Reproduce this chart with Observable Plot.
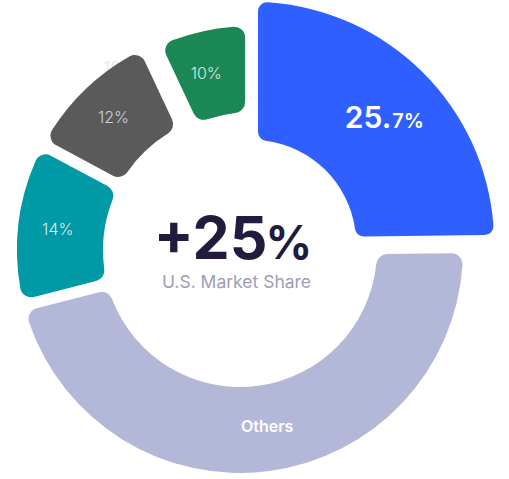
<!DOCTYPE html>
<html>
<head>
<meta charset="utf-8">
<script src="https://cdn.jsdelivr.net/npm/d3@7"></script>
<script src="https://cdn.jsdelivr.net/npm/@observablehq/plot@0.6"></script>
<style>
  html, body { margin: 0; padding: 0; background: #fff; }
  #chart svg { display: block; }
</style>
</head>
<body>
<div id="chart"></div>
<script>
// ---- data ----
const categories = ["Leader", "Others", "Brand B", "Brand C", "Brand D"];
const shares = [24.8, 46.2, 11.8, 10.2, 7.0];           // angular share
const labelMain = ["25.", "Others", "14%", "12%", "10%"];
const labelSmall = ["7%", "", "", "", ""];
const ghostLabel = ["10%"];
const centerValue = ["+25"];
const centerUnit = ["%"];
const centerCaption = ["U.S. Market Share"];

// ---- styles / layout ----
const W = 509, H = 479;
const C = {x: 240, y: 250};
const pad = 0.045, padRadius = 260;
const styles = [
  {fill: "#2f5fff", inner: 104, outer: 242, ox: 12.15, oy: -6.15, corner: 9},
  {fill: "#b3b8d8", inner: 137, outer: 223, ox: 0, oy: 0, corner: 11},
  {fill: "#0099a6", inner: 137, outer: 223, ox: 0, oy: 0, corner: 11},
  {fill: "#5a5a5a", inner: 137, outer: 223, ox: 0, oy: 0, corner: 11},
  {fill: "#1a8754", inner: 137, outer: 223, ox: 11, oy: -1, corner: 11}
];
const labelStyle = [
  {size: 30, small: 20, weight: 600, fill: "#ffffff", opacity: 1, dx: 17, dy: 7},
  {size: 16, weight: 600, fill: "#ffffff", opacity: 1, dx: 3, dy: -2},
  {size: 16, weight: 300, fill: "#ffffff", opacity: 0.85, dx: -4, dy: 1},
  {size: 16, weight: 300, fill: "#e4e6f2", opacity: 0.85, dx: -3, dy: -2},
  {size: 16, weight: 300, fill: "#ffffff", opacity: 0.85, dx: -6, dy: 0}
];

// ---- geometry derived from the data ----
const total = d3.sum(shares);
let acc = 0;
const slices = categories.map((c, i) => {
  const a0 = acc / total * 2 * Math.PI;
  acc += shares[i];
  const a1 = acc / total * 2 * Math.PI;
  const s = styles[i];
  const cx = C.x + s.ox, cy = C.y + s.oy;
  const mid = (a0 + a1) / 2, rr = (s.inner + s.outer) / 2;
  return {
    category: c, value: shares[i], a0, a1, cx, cy, ...s,
    lx: cx + rr * Math.sin(mid), ly: cy - rr * Math.cos(mid),
    main: labelMain[i], small: labelSmall[i], ls: labelStyle[i]
  };
});

function arcsMark(index, scales) {
  const X = scales.x, Y = scales.y;
  const g = d3.create("svg:g");
  for (const s of slices) {
    const arc = d3.arc()
      .innerRadius(s.inner).outerRadius(s.outer)
      .startAngle(s.a0).endAngle(s.a1)
      .padAngle(pad).padRadius(padRadius)
      .cornerRadius(s.corner);
    g.append("path")
      .attr("d", arc())
      .attr("transform", `translate(${X(s.cx)},${Y(s.cy)})`)
      .attr("fill", s.fill);
  }
  return g.node();
}

const marks = [];
// ghost label partly hidden behind the grey slice
const gs = slices[3];
marks.push(Plot.text(ghostLabel, {
  x: () => gs.lx + 3, y: () => gs.ly - 52, text: d => d,
  fontSize: 16, fontWeight: 300, fill: "#e2e3ec", textAnchor: "middle"
}));
marks.push(arcsMark);

slices.forEach((s, i) => {
  const ls = s.ls;
  if (s.small) {
    marks.push(Plot.text([s], {
      x: d => d.lx + ls.dx, y: d => d.ly + ls.dy, text: d => d.main,
      fontSize: ls.size, fontWeight: ls.weight, fill: ls.fill,
      textAnchor: "end", lineAnchor: "bottom"
    }));
    marks.push(Plot.text([s], {
      x: d => d.lx + ls.dx + 1, y: d => d.ly + ls.dy, text: d => d.small,
      fontSize: ls.small, fontWeight: ls.weight, fill: ls.fill,
      textAnchor: "start", lineAnchor: "bottom"
    }));
  } else {
    marks.push(Plot.text([s], {
      x: d => d.lx + ls.dx, y: d => d.ly + ls.dy, text: d => d.main,
      fontSize: ls.size, fontWeight: ls.weight, fill: ls.fill, fillOpacity: ls.opacity,
      textAnchor: "middle"
    }));
  }
});

// centre text
marks.push(Plot.text(centerValue, {
  x: () => C.x + 27, y: () => C.y + 8, text: d => d,
  fontSize: 59, fontWeight: 700, fill: "#1f1c3d", textAnchor: "end", lineAnchor: "bottom"
}));
marks.push(Plot.text(centerUnit, {
  x: () => C.x + 25, y: () => C.y + 8, text: d => d,
  fontSize: 46, fontWeight: 700, fill: "#1f1c3d", textAnchor: "start", lineAnchor: "bottom"
}));
marks.push(Plot.text(centerCaption, {
  x: () => C.x - 4, y: () => C.y + 37, text: d => d,
  fontSize: 17.5, fontWeight: 400, fill: "#9c9eb6", textAnchor: "middle", lineAnchor: "bottom"
}));

const chart = Plot.plot({
  width: W, height: H,
  margin: 0,
  x: {domain: [0, W], range: [0, W], axis: null},
  y: {domain: [0, H], range: [0, H], axis: null},
  style: {fontFamily: "Inter, 'Noto Sans', sans-serif", background: "#ffffff", overflow: "visible"},
  marks
});
document.getElementById("chart").appendChild(chart);
</script>
</body>
</html>
